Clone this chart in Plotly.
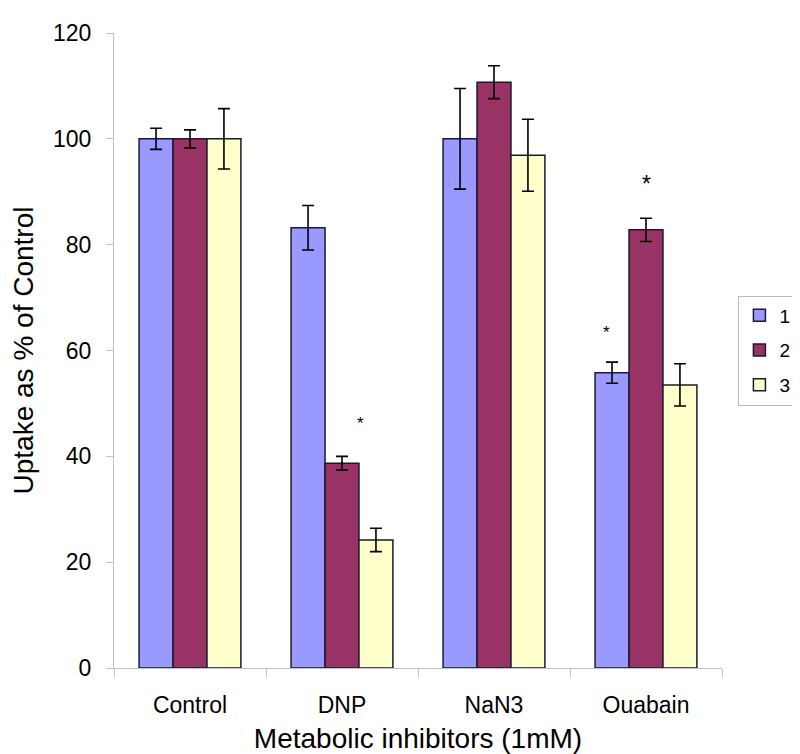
import plotly.graph_objects as go

categories = ["Control", "DNP", "NaN3", "Ouabain"]
series_names = ["1", "2", "3"]
values_1 = [100, 83.2, 100, 55.8]
values_2 = [100, 38.7, 110.7, 82.8]
values_3 = [100, 24.2, 96.9, 53.5]
errors_1 = [2.0, 4.2, 9.5, 2.0]
errors_2 = [1.7, 1.3, 3.1, 2.2]
errors_3 = [5.7, 2.2, 6.8, 4.0]
colors = ["#9999FF", "#993366", "#FFFFCC"]

# significance markers: (category, y value, x shift in px, font size)
star_cats = ["DNP", "Ouabain", "Ouabain"]
star_vals = [46.3, 63.4, 91.5]
star_shift = [18, -40, 0]
star_size = [17, 17, 23]

font_family = "Liberation Sans, Arial, sans-serif"

fig = go.Figure()
for name, vals, errs, col in zip(series_names, [values_1, values_2, values_3],
                                 [errors_1, errors_2, errors_3], colors):
    fig.add_trace(go.Bar(
        x=categories, y=vals, name=name, legendgroup="g" + name,
        marker=dict(color=col, line=dict(color="#1a1a2e", width=1.5)),
        error_y=dict(type="data", array=errs, visible=True,
                     color="black", thickness=1.6, width=6),
    ))

for c, v, s, fs in zip(star_cats, star_vals, star_shift, star_size):
    fig.add_annotation(x=c, y=v, xref="x", yref="y", text="*", showarrow=False,
                       xshift=s, font=dict(size=fs, color="black", family=font_family))

fig.update_layout(
    width=800, height=754,
    paper_bgcolor="white", plot_bgcolor="white",
    margin=dict(l=104, r=70, t=17, b=94),
    barmode="group", bargap=0.33, bargroupgap=0,
    font=dict(family=font_family, size=23, color="black"),
    showlegend=True,
    legend=dict(x=1.027, y=0.5, xanchor="left", yanchor="middle",
                bordercolor="#bbbbbb", borderwidth=1, bgcolor="white",
                font=dict(size=19), itemwidth=30, tracegroupgap=7),
    xaxis=dict(showline=True, linecolor="#c0c0c0", linewidth=1,
               ticks="outside", tickson="boundaries", ticklen=8, tickcolor="#c0c0c0",
               showgrid=False, ticklabelstandoff=16,
               title=dict(text="Metabolic inhibitors (1mM)", standoff=11)),
    yaxis=dict(range=[0, 120], dtick=20, showline=True, linecolor="#c0c0c0", linewidth=1,
               ticks="outside", ticklen=7, tickcolor="#c0c0c0", showgrid=False,
               zeroline=False, ticklabelstandoff=10,
               title=dict(text="Uptake as % of Control", standoff=13)),
)

fig.write_html("out.html")
